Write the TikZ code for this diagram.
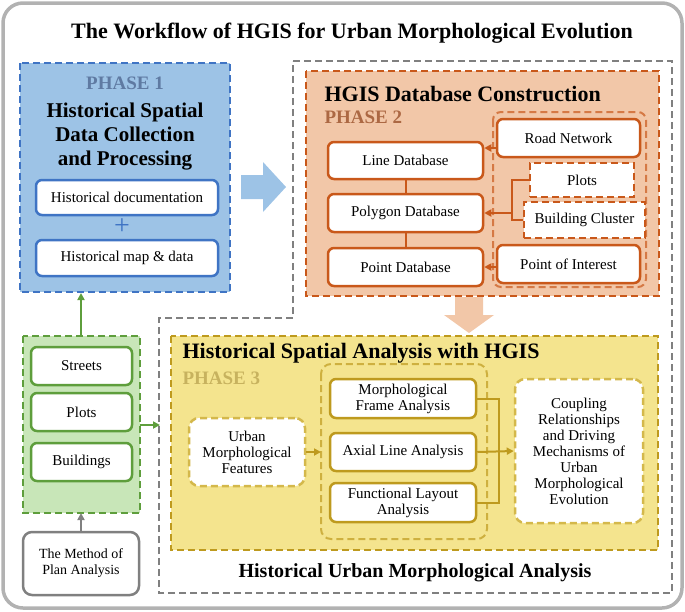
\documentclass[tikz,border=0pt]{standalone}
\usepackage{fontspec}
\setmainfont{Liberation Serif}
\usetikzlibrary{arrows.meta}
\definecolor{bfill}{HTML}{9DC3E6}\definecolor{bdraw}{HTML}{3F74C4}
\definecolor{ofill}{HTML}{F2C7A8}\definecolor{odraw}{HTML}{C9581A}
\definecolor{yfill}{HTML}{F4E48E}\definecolor{ydraw}{HTML}{BE9A1E}
\definecolor{gfill}{HTML}{C8E6B8}\definecolor{gdraw}{HTML}{5E9E3C}
\definecolor{gray1}{HTML}{808080}
\tikzset{
 dsh/.style={dash pattern=on 7pt off 4pt},
 box/.style={draw, fill=white, rounded corners=6pt, line width=2.5pt, align=center, font=\fontsize{15}{16}\selectfont, inner sep=0pt},
 wbox/.style={box, dsh, rounded corners=10pt},
 area/.style={line width=2.3pt, dsh},
 hd/.style={font=\bfseries\fontsize{22}{24}\selectfont},
 ph/.style={font=\bfseries\fontsize{19}{20}\selectfont},
 conn/.style={line width=2pt},
 arr/.style={conn, -{Triangle[length=7pt,width=7pt]}},
}
\begin{document}
\begin{tikzpicture}[x=1pt,y=-1pt]
\useasboundingbox (0,0) rectangle (685,611);
\draw[gray!60, line width=3.5pt, rounded corners=20pt] (3,3) rectangle (682,608);
\node[hd] (title) at (352,33) {The Workflow of HGIS for Urban Morphological Evolution};
% gray dashed region
\draw[gray1, area] (293,61) -- (672,61) -- (672,593) -- (159,593) -- (159,318) -- (293,318) -- cycle;
% phase 1
\draw[bdraw, fill=bfill, area] (20,63) rectangle (230,292);
\node[ph, text=bdraw!50!gray] (p1) at (125,83) {PHASE 1};
\node[hd, align=center, font=\bfseries\fontsize{21}{24}\selectfont] (p1t) at (125,137) {Historical Spatial\\Data Collection\\and Processing};
\node[box, draw=bdraw, minimum width=182pt, minimum height=35pt] (hd1) at (127,197.5) {Historical documentation};
\node[text=bdraw, font=\fontsize{28}{28}\selectfont] (plus) at (122,227) {+};
\node[box, draw=bdraw, minimum width=182pt, minimum height=36pt] (hm) at (127,258) {Historical map \& data};
\fill[bfill] (241,175) -- (263,175) -- (263,162) -- (286,187) -- (263,212) -- (263,199) -- (241,199) -- cycle;
% phase 2
\draw[odraw, fill=ofill, area] (306,71) rectangle (659,296);
\node[hd, anchor=west] (p2t) at (321,94) {HGIS Database Construction};
\node[ph, anchor=west, text=odraw!60!gray] (p2) at (321,117) {PHASE 2};
\draw[odraw!70!ofill, line width=2pt, dsh, rounded corners=8pt] (493,112) rectangle (646,287);
\node[box, draw=odraw, minimum width=155pt, minimum height=37pt] (ld) at (405.5,160.5) {Line Database};
\node[box, draw=odraw, minimum width=155pt, minimum height=38pt] (pd) at (405.5,213) {Polygon Database};
\node[box, draw=odraw, minimum width=155pt, minimum height=38pt] (ptd) at (405.5,267) {Point Database};
\node[box, draw=odraw, minimum width=143pt, minimum height=38pt] (rn) at (568.5,138) {Road Network};
\node[box, draw=odraw, dsh, rounded corners=0pt, minimum width=104pt, minimum height=34pt] (pl) at (582,180) {Plots};
\node[box, draw=odraw, dsh, rounded corners=0pt, minimum width=121pt, minimum height=36pt] (bc) at (584.5,220) {Building Cluster};
\node[box, draw=odraw, minimum width=143pt, minimum height=38pt] (poi) at (568.5,264) {Point of Interest};
\draw[odraw, conn] (ld) -- (pd) (pd) -- (ptd);
\draw[odraw, arr] (rn.west |- 0,148) -- (ld.east |- 0,148);
\draw[odraw, arr] (poi.west |- 0,267) -- (ptd.east |- 0,267);
\draw[odraw, conn] (pl.west) -| (512,213) |- (bc.west);
\draw[odraw, arr] (512,213) -- (pd.east);
% down arrow
\fill[ofill] (455,297) -- (483,297) -- (483,315) -- (494,315) -- (469,333) -- (444,315) -- (455,315) -- cycle;
% phase 3
\draw[ydraw, fill=yfill, area] (171,336) rectangle (658,550);
\node[hd, anchor=west] (p3t) at (179,353) {Historical Spatial Analysis with HGIS};
\node[ph, anchor=west, text=ydraw!50!yfill!80!gray] (p3) at (179,378) {PHASE 3};
\draw[ydraw!70!yfill, line width=2pt, dsh, rounded corners=10pt] (321,364) rectangle (487,539);
\node[wbox, draw=ydraw!60!yfill, minimum width=116pt, minimum height=68pt] (umf) at (247,452) {Urban\\Morphological\\Features};
\node[box, draw=ydraw, minimum width=146pt, minimum height=39pt] (mfa) at (403,398.5) {Morphological\\Frame Analysis};
\node[box, draw=ydraw, minimum width=146pt, minimum height=38pt] (ala) at (403,452) {Axial Line Analysis};
\node[box, draw=ydraw, minimum width=146pt, minimum height=39pt] (fla) at (403,502.5) {Functional Layout\\Analysis};
\node[wbox, draw=ydraw!60!yfill, minimum width=128pt, minimum height=144pt] (cr) at (579,451) {Coupling\\Relationships\\and Driving\\Mechanisms of\\Urban\\Morphological\\Evolution};
\coordinate (grpL) at (321,452);
\draw[ydraw, arr] (umf.east) -- (grpL);
\draw[ydraw, conn] (mfa.east) -| (499,452) (fla.east) -| (499,452);
\draw[ydraw, arr] (ala.east) -- (cr.west);
\node[hd, font=\bfseries\fontsize{20}{22}\selectfont] (hum) at (415,573) {Historical Urban Morphological Analysis};
% green
\draw[gdraw, fill=gfill, area] (23,336) rectangle (140,513);
\node[box, draw=gdraw, minimum width=101pt, minimum height=38pt] (st) at (81.5,366) {Streets};
\node[box, draw=gdraw, minimum width=101pt, minimum height=38pt] (gp) at (81.5,412) {Plots};
\node[box, draw=gdraw, minimum width=101pt, minimum height=38pt] (bu) at (81.5,462) {Buildings};
\coordinate (gtop) at (81,336);
\coordinate (gbot) at (81,513);
\coordinate (gright) at (140,425);
\coordinate (lowL) at (160,425);
\draw[gdraw, arr] (gtop) -- (81,293);
\draw[gdraw, arr] (gright) -- (lowL);
\node[box, draw=gray1, minimum width=116pt, minimum height=63pt, rounded corners=9pt, font=\fontsize{14}{16}\selectfont] (mpa) at (81,563.5) {The Method of\\Plan Analysis};
\draw[gray1, arr] (mpa.north) -- (gbot);
\end{tikzpicture}
\end{document}
